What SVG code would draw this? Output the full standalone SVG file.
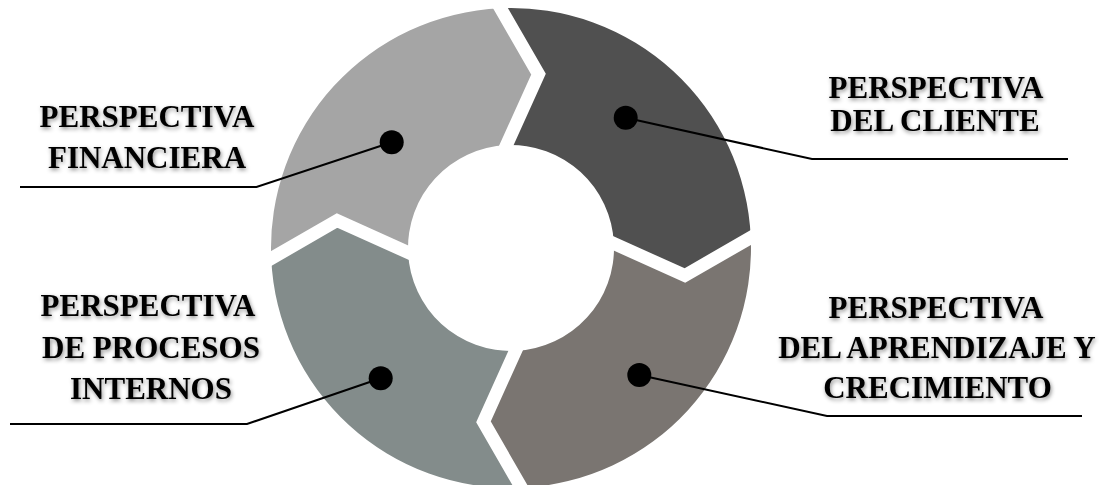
<svg xmlns="http://www.w3.org/2000/svg" width="1099" height="485" viewBox="0 0 1099 485">
  <defs>
    <filter id="shadow" x="-10%" y="-30%" width="120%" height="160%">
      <feDropShadow dx="1" dy="2" stdDeviation="2" flood-color="#000" flood-opacity="0.45"/>
    </filter>
    <path id="seg" d="M 271.23 258.47 A 240 240 0 0 1 500.53 8.23 L 538.53 74.17 L 506.51 145.10 A 103 103 0 0 0 408.10 252.49 L 337.17 220.47 Z"/>
    <polyline id="gap" points="492.93,-4.96 538.53,74.17 500.11,159.29"/>
  </defs>
  <style>
    .lbl { font-family: "Liberation Serif", "Times New Roman", serif; font-weight: bold; font-size: 31px; fill: #000; text-anchor: middle; filter: url(#shadow); }
    .lead { fill: none; stroke: #000; stroke-width: 2; }
    .dot { fill: #000; }
    .gapl { fill: none; stroke: #fff; stroke-width: 13; stroke-linejoin: miter; stroke-miterlimit: 10; }
  </style>
  <rect width="1099" height="485" fill="#fff"/>

  <g id="ring">
    <g id="financiera-seg"><use href="#seg" fill="#A5A5A5"/></g>
    <g id="cliente-seg"><use href="#seg" fill="#505050" transform="rotate(90 511 248)"/></g>
    <g id="aprendizaje-seg"><use href="#seg" fill="#7A7571" transform="rotate(180 511 248)"/></g>
    <g id="procesos-seg"><use href="#seg" fill="#838C8B" transform="rotate(270 511 248)"/></g>
    <g id="gaps" class="gapl">
      <use href="#gap"/>
      <use href="#gap" transform="rotate(90 511 248)"/>
      <use href="#gap" transform="rotate(180 511 248)"/>
      <use href="#gap" transform="rotate(270 511 248)"/>
    </g>
  </g>

  <g id="connectors">
    <polyline class="lead" points="391.7,142.3 256.5,187 20,187"/>
    <polyline class="lead" points="625.7,117.7 812,159 1068,159"/>
    <polyline class="lead" points="380.7,378.3 247,424 10,424"/>
    <polyline class="lead" points="639.3,375 827,416 1082,416"/>
  </g>

  <g id="financiera">
    <circle class="dot" cx="391.7" cy="142.3" r="12"/>
    <text class="lbl" x="147" y="126.5">PERSPECTIVA</text>
    <text class="lbl" x="147" y="168">FINANCIERA</text>
  </g>
  <g id="cliente">
    <circle class="dot" cx="625.7" cy="117.7" r="12"/>
    <text class="lbl" x="936" y="98">PERSPECTIVA</text>
    <text class="lbl" x="935" y="131">DEL CLIENTE</text>
  </g>
  <g id="procesos">
    <circle class="dot" cx="380.7" cy="378.3" r="12"/>
    <text class="lbl" x="148" y="316">PERSPECTIVA</text>
    <text class="lbl" x="151" y="358">DE PROCESOS</text>
    <text class="lbl" x="151" y="398.5">INTERNOS</text>
  </g>
  <g id="aprendizaje">
    <circle class="dot" cx="639.3" cy="375" r="12"/>
    <text class="lbl" x="936" y="318">PERSPECTIVA</text>
    <text class="lbl" x="937" y="358">DEL APRENDIZAJE Y</text>
    <text class="lbl" x="937.5" y="398">CRECIMIENTO</text>
  </g>
</svg>
